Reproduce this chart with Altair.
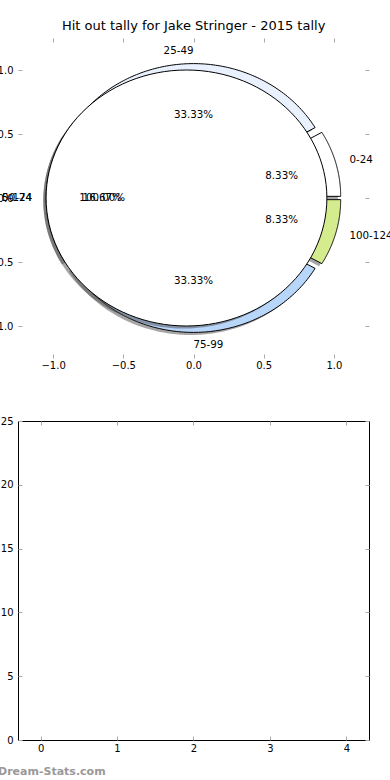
import altair as alt
import pandas as pd

TITLE = "Hit out tally for Jake Stringer - 2015 tally"
WATERMARK = "Dream-Stats.com"

# first pie: hit-out tally buckets
tally_labels = ["0-24", "25-49", "50-74", "75-99", "100-124"]
tally_counts = [1, 4, 2, 4, 1]
tally_colors = ["#ffffff", "#e9f1ff", "#ffffff", "#b8d5fa", "#d4ec8e"]

# second pie drawn on the same axes (a single 100% wedge)
total_labels = ["0-124"]
total_counts = [12]
total_colors = ["#ffffff"]

pie_x_ticks = [-1.0, -0.5, 0.0, 0.5, 1.0]
pie_y_ticks = [-1.0, -0.5, 0.0, 0.5, 1.0]
bar_x_ticks = [0, 1, 2, 3, 4]
bar_y_ticks = [0, 5, 10, 15, 20, 25]
bar_x = []
bar_y = []

# style constants
EXPLODE = 0.05
SHADOW = 0.02
LABEL_DIST = 1.1
PCT_DIST = 0.6
NSEG = 120
FONT = "DejaVu Sans"
TICK_COLOR = "#aaaaaa"


def pie_table(labels, counts, colors):
    return pd.DataFrame({"idx": list(range(len(labels))), "label": labels,
                         "count": counts, "color": colors})


def angles(chart):
    return (chart
            .transform_joinaggregate(total="sum(count)")
            .transform_window(cum="sum(count)", sort=[alt.SortField("idx")])
            .transform_calculate(t1="2*PI*(datum.cum - datum.count)/datum.total")
            .transform_calculate(t2="2*PI*datum.cum/datum.total")
            .transform_calculate(mid="(datum.t1 + datum.t2)/2")
            .transform_calculate(cx=f"{EXPLODE}*cos(datum.mid)")
            .transform_calculate(cy=f"{EXPLODE}*sin(datum.mid)"))


def outline(chart, shift):
    return (angles(chart)
            .transform_calculate(steps=f"sequence(0, {NSEG + 3})")
            .transform_flatten(["steps"], as_=["k"])
            .transform_calculate(full="datum.t2 - datum.t1 > 2*PI - 1e-9")
            .transform_calculate(a=f"datum.t1 + clamp(datum.k - 1, 0, {NSEG})/{NSEG}*(datum.t2 - datum.t1)")
            .transform_calculate(atc=f"!datum.full && (datum.k == 0 || datum.k == {NSEG + 2})")
            .transform_calculate(px=f"(datum.atc ? datum.cx : datum.cx + cos(datum.a)) - ({shift})")
            .transform_calculate(py=f"(datum.atc ? datum.cy : datum.cy + sin(datum.a)) - ({shift})"))


def text_pos(chart):
    return (angles(chart)
            .transform_calculate(lx=f"datum.cx + {LABEL_DIST}*cos(datum.mid)")
            .transform_calculate(ly=f"datum.cy + {LABEL_DIST}*sin(datum.mid)")
            .transform_calculate(qx=f"datum.cx + {PCT_DIST}*cos(datum.mid)")
            .transform_calculate(qy=f"datum.cy + {PCT_DIST}*sin(datum.mid)")
            .transform_calculate(pct="format(100*datum.count/datum.total, '.2f') + '%'")
            .transform_calculate(rightal="datum.mid >= PI/2 - 1e-6 && datum.mid < 3*PI/2 - 1e-6"))


pie_xs = alt.Scale(domain=[-1.25, 1.25], nice=False, zero=False)
pie_ys = alt.Scale(domain=[-1.25, 1.25], nice=False, zero=False)

tick_style = dict(domain=False, grid=False, ticks=True, tickSize=4, offset=-4,
                  tickColor=TICK_COLOR, tickWidth=1, labelFont=FONT, labelFontSize=10,
                  labelColor="black", labelFlush=False, labelOverlap=False)

ax_pie_bottom = alt.Axis(orient="bottom", values=pie_x_ticks, format=".1f", labelPadding=2, **tick_style)
ax_pie_left = alt.Axis(orient="left", values=pie_y_ticks, format=".1f", labelPadding=5, **tick_style)
ax_pie_top = alt.Axis(orient="top", values=pie_x_ticks, labels=False, **tick_style)
ax_pie_right = alt.Axis(orient="right", values=pie_y_ticks, labels=False, **tick_style)

tally = alt.Chart(pie_table(tally_labels, tally_counts, tally_colors))
total = alt.Chart(pie_table(total_labels, total_counts, total_colors))


def shadow_layer(base, xaxis=None, yaxis=None):
    return outline(base, SHADOW).mark_line(
        fill="#4d4d4d", fillOpacity=0.5, stroke="transparent"
    ).encode(
        x=alt.X("px:Q", scale=pie_xs, axis=xaxis, title=None),
        y=alt.Y("py:Q", scale=pie_ys, axis=yaxis, title=None),
        order=alt.Order("k:Q"),
        detail="label:N",
    )


def wedge_layer(base, xaxis=None, yaxis=None):
    return outline(base, 0).mark_line(
        stroke="black", strokeWidth=1, strokeJoin="miter"
    ).encode(
        x=alt.X("px:Q", scale=pie_xs, axis=xaxis, title=None),
        y=alt.Y("py:Q", scale=pie_ys, axis=yaxis, title=None),
        fill=alt.Fill("color:N", scale=None),
        order=alt.Order("k:Q"),
        detail="label:N",
    )


def label_layers(base):
    tp = text_pos(base)
    common = dict(font=FONT, fontSize=10.3, baseline="middle", color="black")
    right = tp.transform_filter("datum.rightal").mark_text(align="right", **common).encode(
        x=alt.X("lx:Q", scale=pie_xs, axis=None), y=alt.Y("ly:Q", scale=pie_ys, axis=None),
        text="label:N")
    left = tp.transform_filter("!datum.rightal").mark_text(align="left", **common).encode(
        x=alt.X("lx:Q", scale=pie_xs, axis=None), y=alt.Y("ly:Q", scale=pie_ys, axis=None),
        text="label:N")
    pct = tp.mark_text(align="center", **common).encode(
        x=alt.X("qx:Q", scale=pie_xs, axis=None), y=alt.Y("qy:Q", scale=pie_ys, axis=None),
        text="pct:N")
    return [right, left, pct]


pie = alt.layer(
    shadow_layer(tally, ax_pie_bottom, ax_pie_left),
    wedge_layer(tally, ax_pie_top, ax_pie_right),
    shadow_layer(total),
    wedge_layer(total),
    *label_layers(tally),
    *label_layers(total),
).resolve_axis(x="independent", y="independent").properties(
    width=351, height=320, view=alt.ViewBackground(stroke="transparent")
)

# empty second axes
bar_df = pd.DataFrame({"x": bar_x, "y": bar_y})
bx = alt.Scale(domain=[-0.23, 4.23], nice=False, zero=False)
by = alt.Scale(domain=[0, 25], nice=False, zero=False)

ax_bar_bottom = alt.Axis(orient="bottom", values=bar_x_ticks, format="d", labelPadding=3, **tick_style)
ax_bar_left = alt.Axis(orient="left", values=bar_y_ticks, format="d", labelPadding=5, **tick_style)
ax_bar_top = alt.Axis(orient="top", values=bar_x_ticks, labels=False, **tick_style)
ax_bar_right = alt.Axis(orient="right", values=bar_y_ticks, labels=False, **tick_style)

b1 = alt.Chart(bar_df).mark_bar().encode(
    x=alt.X("x:Q", scale=bx, axis=ax_bar_bottom, title=None),
    y=alt.Y("y:Q", scale=by, axis=ax_bar_left, title=None),
)
b2 = alt.Chart(bar_df).mark_bar().encode(
    x=alt.X("x:Q", scale=bx, axis=ax_bar_top, title=None),
    y=alt.Y("y:Q", scale=by, axis=ax_bar_right, title=None),
)
bottom = alt.layer(b1, b2).resolve_axis(x="independent", y="independent").properties(
    width=351, height=319,
    view=alt.ViewBackground(stroke="black", strokeWidth=1),
    title=alt.TitleParams(WATERMARK, orient="bottom", anchor="start", frame="group", dx=-20, offset=13,
                          font=FONT, fontSize=11, fontWeight="bold", color="#999999"),
)

chart = alt.vconcat(pie, bottom, spacing=63, bounds="flush").properties(
    title=alt.TitleParams(TITLE, font=FONT, fontSize=13, fontWeight="normal",
                          color="black", anchor="middle", offset=4, dx=3),
    padding={"left": -12, "top": 20, "right": -3, "bottom": 0},
)

chart.save("out.html", embed_options={"renderer": "svg", "actions": False})
